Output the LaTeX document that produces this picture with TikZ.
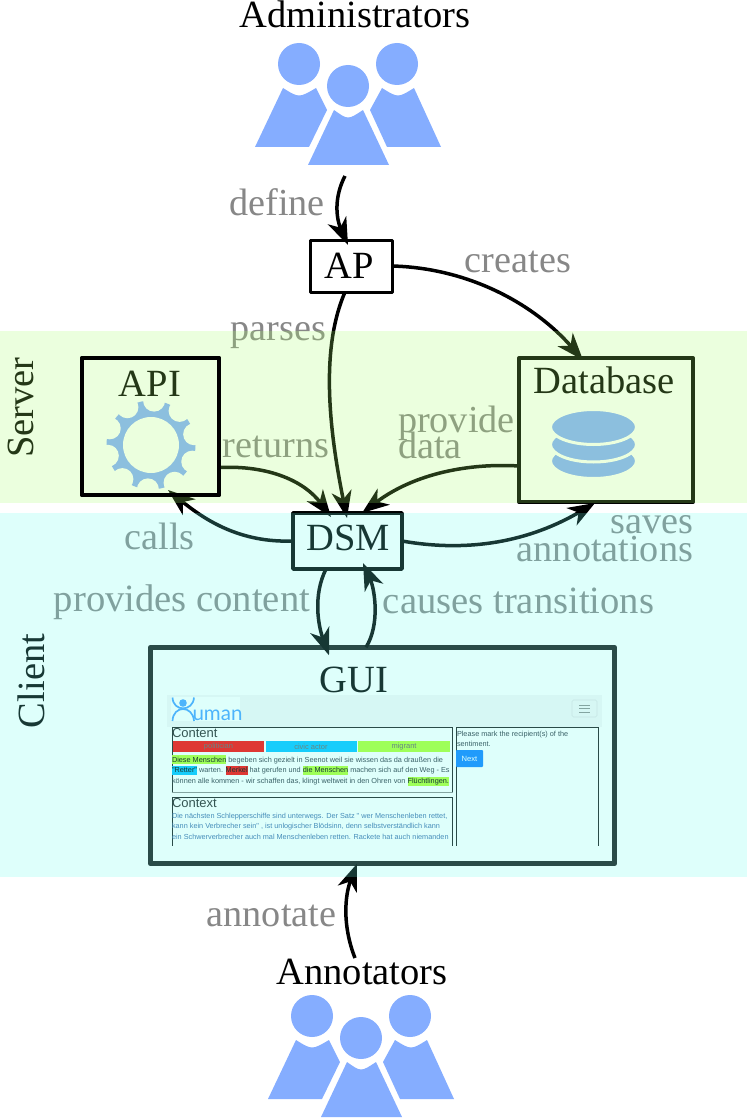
\documentclass[tikz,border=0pt]{standalone}
\usepackage{fontspec}
\usetikzlibrary{arrows.meta,calc}
\setmainfont{Liberation Serif}
\newfontfamily\uifont{Liberation Sans}
\newfontfamily\logofont{Lato}
\definecolor{bandgreen}{RGB}{168,255,105}
\definecolor{bandcyan}{RGB}{105,255,240}
\definecolor{iconblue}{RGB}{133,173,255}
\definecolor{hlred}{RGB}{255,0,0}
\definecolor{hlcyan}{RGB}{0,192,255}
\definecolor{hlgreen}{RGB}{173,255,47}
\definecolor{btnblue}{RGB}{12,128,255}
\definecolor{logoblue}{RGB}{70,160,255}
\definecolor{navbg}{RGB}{245,245,246}
\definecolor{bodytxt}{RGB}{45,55,65}
\definecolor{ctxtxt}{RGB}{60,110,170}
\newcommand{\hlt}[2]{{\setlength{\fboxsep}{0pt}\colorbox{#1}{\rule[-2.2pt]{0pt}{9pt}\color{black}#2}}}
\newcommand{\peoplegroup}{%
  \fill[iconblue] (299,64) circle[radius=21] (397,64) circle[radius=21] (348,86) circle[radius=21];
  \fill[iconblue] (255,147) -- (283,88) .. controls (299,98) .. (316,88) -- (327,110) -- (309,147) -- cycle;
  \fill[iconblue] (441,147) -- (414,88) .. controls (398,98) .. (382,88) -- (370,110) -- (387,147) -- cycle;
  \fill[iconblue] (308,165) -- (334,110) .. controls (348,120) .. (363,110) -- (389,165) -- cycle;
}
\tikzset{
  bigtext/.style={font=\fontsize{38.5}{38.5}\selectfont,inner sep=0pt,outer sep=0pt,anchor=base},
  ttl/.style={bigtext,text=black},
  lbl/.style={font=\fontsize{38.2}{38.2}\selectfont,inner sep=0pt,outer sep=0pt,anchor=base,text=black!47},
  lbllong/.style={lbl,font=\fontsize{38.6}{38.6}\selectfont},
  boxnode/.style={draw=black,rectangle,inner sep=0pt,outer sep=0pt,fill=none,line join=round},
  arr/.style={-{Stealth[length=27pt 0 0,width=20pt 0,inset=8pt 0]},draw=black,line width=3.5pt},
  uitext/.style={font=\uifont\fontsize{7.3}{7.3}\selectfont,inner sep=0pt,outer sep=0pt,anchor=base west,text=bodytxt},
  uihead/.style={font=\uifont\fontsize{13}{13}\selectfont,inner sep=0pt,outer sep=0pt,anchor=base west,text=black!85},
  ctxt/.style={uitext,text=ctxtxt},
  tagbar/.style={inner sep=0pt,outer sep=0pt,minimum height=11pt,anchor=west,font=\uifont\fontsize{7.5}{7.5}\selectfont,text=black!60},
}
\begin{document}
\begin{tikzpicture}[x=1pt,y=-1pt]
\useasboundingbox (0,0) rectangle (747,1118);
\fill[white] (0,0) rectangle (747,1118);

% people
\peoplegroup
\begin{scope}[shift={(13,952)}]\peoplegroup\end{scope}

% gear (before the titles, its scallops are filled white)
\fill[iconblue] (151,445) circle[radius=44.5];
\foreach \a in {14,50,...,338} {
  \fill[white] ($(151,445)+(\a:44.5 and -44.5)$) circle[radius=11];
}
\fill[white] (151,445) circle[radius=28];

% titles
\node[ttl] (admins) at (355,27.5) {Administrators};
\node[ttl] (annotators) at (362,984) {Annotators};
\coordinate (adminsout) at (345,176);
\coordinate (annotout) at (355,958);

% boxes
\node[boxnode,line width=3pt,minimum width=82pt,minimum height=52pt] (ap) at (351,266) {};
\node[ttl] (aptext) at (349,278) {AP};
\node[boxnode,line width=4pt,draw=black,minimum width=137pt,minimum height=137pt] (api) at (150.5,426.5) {};
\node[ttl] (apitext) at (150,396) {API};
\node[boxnode,line width=4pt,minimum width=174pt,minimum height=144pt] (db) at (606,430) {};
\node[ttl] (dbtext) at (604.5,393) {Database};
\node[boxnode,line width=3.5pt,minimum width=109pt,minimum height=56pt] (dsm) at (347.5,541) {};
\node[ttl] (dsmtext) at (348,550) {DSM};
\node[boxnode,line width=5pt,draw=black!90,minimum width=464pt,minimum height=216.5pt] (gui) at (382.5,755.5) {};
\node[ttl] (guitext) at (354,692) {GUI};

% database icon
\fill[iconblue,draw=white,line width=3pt] (593.5,461) ellipse[x radius=43,y radius=17.5];
\fill[iconblue,draw=white,line width=3pt] (593.5,444.5) ellipse[x radius=43,y radius=17.5];
\fill[iconblue,draw=white,line width=3pt] (593.5,427) ellipse[x radius=43,y radius=17.5];

% screenshot
\begin{scope}
  \clip (165,690) rectangle (606,845);
  \fill[navbg] (167,695) rectangle (602,727);
  \fill[white] (171,697) rectangle (240,721);
  \fill[logoblue] (183,703) circle[radius=3.8];
  \draw[logoblue,line width=1.7pt] (172.5,697.5) .. controls (173,712) and (193,712) .. (194,697.5);
  \draw[logoblue,line width=1.7pt] (172.5,721) .. controls (173,705) and (193,705) .. (194,721);
  \node[inner sep=0pt,outer sep=0pt,anchor=base west,text=logoblue,font=\logofont\fontsize{20.5}{20.5}\selectfont] (logo) at (192.5,720.5) {uman};
  \draw[black!12,rounded corners=1.5pt,line width=.6pt] (572,700) rectangle (597,717);
  \draw[black!45,line width=.7pt] (579,705) -- (590,705) (579,708.5) -- (590,708.5) (579,712) -- (590,712);

  \draw[black!90,line width=.8pt] (172,792) |- (452,727.5) -- (452,792);
  \draw[black!45,line width=1pt] (171.5,792) -- (452.5,792);
  \draw[black!90,line width=.8pt] (172,850) |- (452,797) -- (452,850);
  \draw[black!90,line width=.8pt] (456,850) |- (598,727.5) -- (598,850);

  \node[uihead] (contenthead) at (172,737) {Content};
  \node[tagbar,fill=hlred,minimum width=91pt] (tag1) at (173,746.5) {politician};
  \node[tagbar,fill=hlcyan,minimum width=91pt] (tag2) at (265.5,746.5) {civic actor};
  \node[tagbar,fill=hlgreen,minimum width=92pt] (tag3) at (358,746.5) {migrant};

  \node[uitext] (l1) at (172,762) {\hlt{hlgreen}{Diese Menschen} begeben sich gezielt in Seenot weil sie wissen das da draußen die};
  \node[uitext] (l2) at (172,772.5) {\hlt{hlcyan}{"Retter"} warten. \hlt{hlred}{Merkel} hat gerufen und \hlt{hlgreen}{die Menschen} machen sich auf den Weg - Es};
  \node[uitext] (l3) at (172,783.5) {können alle kommen - wir schaffen das, klingt weltweit in den Ohren von \hlt{hlgreen}{Flüchtlingen.}};

  \node[uihead] (contexthead) at (172,807) {Context};
  \node[ctxt] (c1) at (172,818) {Die nächsten Schlepperschiffe sind unterwegs. Der Satz " wer Menschenleben rettet,};
  \node[ctxt] (c2) at (172,828.5) {kann kein Verbrecher sein" , ist unlogischer Blödsinn, denn selbstverständlich kann};
  \node[ctxt] (c3) at (172,839.5) {ein Schwerverbrecher auch mal Menschenleben retten. Rackete hat auch niemanden};

  \node[uitext] (p1) at (457,736) {Please mark the recipient(s) of the};
  \node[uitext] (p2) at (457,746.5) {sentiment.};
  \node[fill=btnblue,text=white,rounded corners=.8pt,inner sep=0pt,outer sep=0pt,minimum width=27pt,minimum height=17pt,font=\uifont\fontsize{7.6}{7.6}\selectfont] (next) at (469.5,758.5) {Next};
\end{scope}

% labels
\node[lbl] (ldefine) at (277,215) {define};
\node[lbl] (lcreates) at (518,272) {creates};
\node[lbl] (lparses) at (278.5,340) {parses};
\node[lbl] (lreturns) at (276,457) {returns};
\node[lbl,anchor=base west] (lprovide) at (398,432) {provide};
\node[lbl,anchor=base west] (ldata) at (398,458) {data};
\node[lbl] (lcalls) at (159.5,549) {calls};
\node[lbl,anchor=base east] (lsaves) at (693,533) {saves};
\node[lbl,anchor=base east] (lannot) at (693,561) {annotations};
\node[lbllong] (lprovcont) at (182,611) {provides content};
\node[lbllong] (lcauses) at (518.5,613) {causes transitions};
\node[lbl] (lannotate) at (271.5,926) {annotate};

% side titles
\node[ttl,rotate=90] (server) at (33.5,407.5) {Server};
\node[ttl,rotate=90] (client) at (44.5,681) {Client};

% connectors
\draw[arr] (adminsout) .. controls (334,197) and (336,218) .. ($(ap.north)+(-3,5)$);
\draw[arr] (ap.east) .. controls (470,268) and (535,305) .. ($(db.north)+(-23,2)$);
\draw[arr] ($(ap.south)+(-6,0)$) .. controls (322,345) and (327,420) .. ($(dsm.north)+(-.5,5)$);
\draw[arr] ($(api.east)+(0,41)$) .. controls (270,465) and (305,482) .. ($(dsm.north)+(-16.5,4)$);
\draw[arr] ($(db.west)+(0,36)$) .. controls (470,463) and (415,473) .. ($(dsm.north)+(14.5,0)$);
\draw[arr] (dsm.west) .. controls (240,543) and (205,520) .. ($(api.south)+(17.5,-5)$);
\draw[arr] (dsm.east) .. controls (470,553) and (530,541) .. ($(db.south)+(-11,1)$);
\draw[arr] ($(dsm.south)+(-21.5,0)$) .. controls (313,595) and (318,625) .. ($(gui.north)+(-53.5,8)$);
\draw[arr] ($(gui.north)+(-16.5,0)$) .. controls (380,625) and (375,590) .. ($(dsm.south)+(15.5,-6)$);
\draw[arr] (annotout) .. controls (342,925) and (345,895) .. ($(gui.south)+(-25.5,0)$);

% bands over everything, as the reference has them
\fill[bandgreen,opacity=.22] (0,331) rectangle (747,503);
\fill[bandcyan,opacity=.22] (0,513) rectangle (747,877);

% API frame stays pure black above the band
\draw[black,line width=4pt,line join=round] (api.south west) rectangle (api.north east);
\end{tikzpicture}
\end{document}
